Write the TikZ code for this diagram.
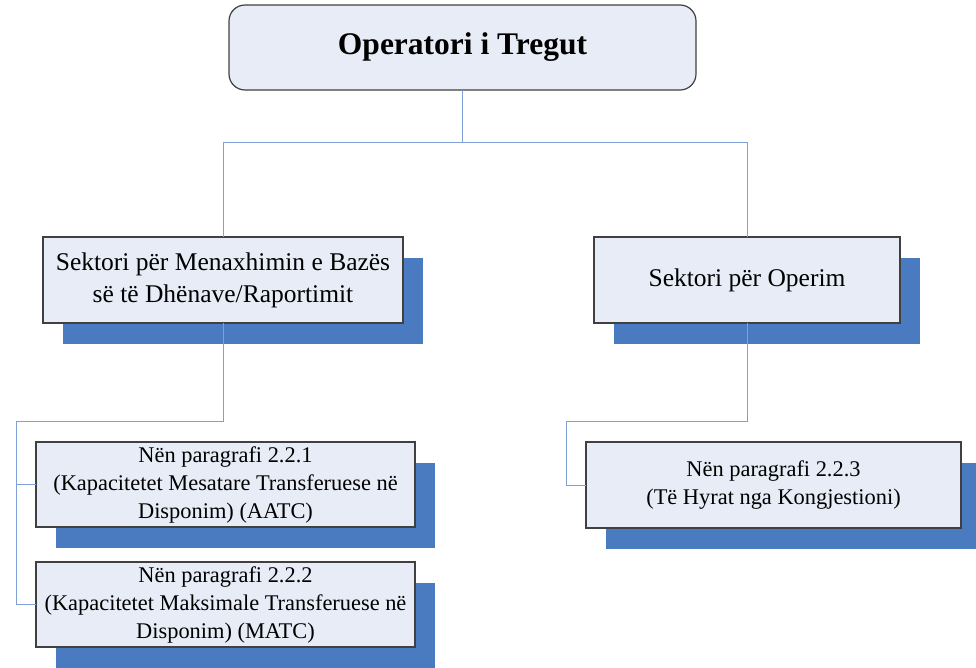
\documentclass[tikz,border=0pt]{standalone}
\usepackage{fontspec}
\setmainfont{Liberation Serif}
\usepackage{xcolor}
\usepackage{tikz}
\usetikzlibrary{positioning, shadows}

\definecolor{boxfill}{RGB}{231,236,247}
\definecolor{boxline}{RGB}{64,64,64}
\definecolor{shadowblue}{RGB}{74,123,192}
\definecolor{linkblue}{RGB}{126,160,214}

\begin{document}
\begin{tikzpicture}[
  x=1pt, y=-1pt,
  box/.style={
    draw=boxline,
    fill=boxfill,
    line width=1.2pt,
    inner sep=0pt,
    outer sep=0pt,
    align=center,
    text centered
  },
  shadowbox/.style={
    box,
    drop shadow={shadow xshift=20pt, shadow yshift=-21pt, fill=shadowblue, opacity=1}
  },
  midtext/.style={font=\fontsize{25.5}{32}\selectfont},
  smalltext/.style={font=\fontsize{22.4}{28}\selectfont},
  link/.style={
    draw=linkblue,
    line width=0.9pt
  }
]
\useasboundingbox (0,0) rectangle (976,667);

\node [box, rounded corners=16pt, minimum width=467pt, minimum height=85pt,
  font=\fontsize{31.5}{38}\selectfont\bfseries] (operatori) at (462.5,47.5) {Operatori i Tregut};

\node [shadowbox, midtext, minimum width=360pt, minimum height=86pt] (menaxhim) at (223,280)
  {Sektori për Menaxhimin e Bazës\\së të Dhënave/Raportimit};
\node [shadowbox, midtext, minimum width=306pt, minimum height=86pt] (operim) at (747,280)
  {Sektori për Operim};

\node [shadowbox, smalltext, minimum width=379pt, minimum height=85pt] (par1) at (225.5,484.5)
  {Nën paragrafi 2.2.1\\(Kapacitetet Mesatare Transferuese në\\Disponim) (AATC)};
\node [shadowbox, smalltext, minimum width=379pt, minimum height=85pt] (par2) at (225.5,604.5)
  {Nën paragrafi 2.2.2\\(Kapacitetet Maksimale Transferuese në\\Disponim) (MATC)};
\node [shadowbox, smalltext, minimum width=375pt, minimum height=86pt] (par3) at (773.5,485)
  {Nën paragrafi 2.2.3\\(Të Hyrat nga Kongjestioni)};

\coordinate (hub) at (462.5,142);
\coordinate (leftbus) at (16,421);
\coordinate (rightbus) at (566,421);

\draw [link] (operatori.south) -- (hub) -| (menaxhim.north);
\draw [link] (hub) -| (operim.north);

\draw [link] (menaxhim.south) |- (leftbus) |- (par2.west);
\draw [link] (leftbus) |- (par1.west);

\draw [link] (operim.south) |- (rightbus) |- (par3.west);

\end{tikzpicture}
\end{document}
